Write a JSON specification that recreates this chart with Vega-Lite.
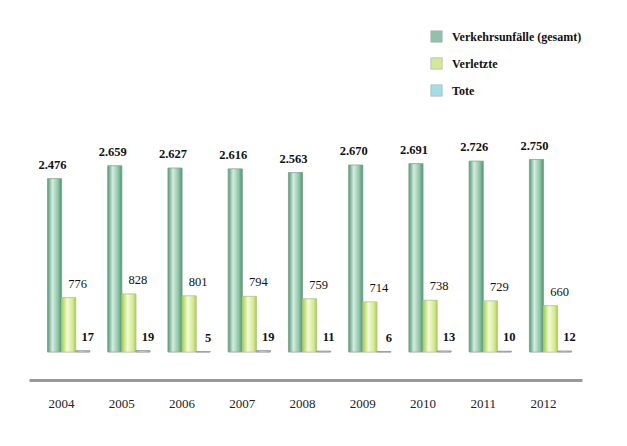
{
  "$schema": "https://vega.github.io/schema/vega-lite/v6.json",
  "width": 553,
  "height": 210,
  "autosize": {"type": "none"},
  "padding": {"left": 29, "top": 142, "right": 45, "bottom": 94},
  "background": "white",
  "config": {
    "view": {"stroke": null},
    "font": "Liberation Serif",
    "text": {"font": "Liberation Serif"},
    "legend": {"labelFont": "Liberation Serif"},
    "locale": {"number": {"decimal": ",", "thousands": ".", "grouping": [3], "currency": ["", " €"]}}
  },
  "data": {
    "values": [
      {"year": "2004", "series": "Verkehrsunfälle (gesamt)", "value": 2476},
      {"year": "2004", "series": "Verletzte", "value": 776},
      {"year": "2004", "series": "Tote", "value": 17},
      {"year": "2005", "series": "Verkehrsunfälle (gesamt)", "value": 2659},
      {"year": "2005", "series": "Verletzte", "value": 828},
      {"year": "2005", "series": "Tote", "value": 19},
      {"year": "2006", "series": "Verkehrsunfälle (gesamt)", "value": 2627},
      {"year": "2006", "series": "Verletzte", "value": 801},
      {"year": "2006", "series": "Tote", "value": 5},
      {"year": "2007", "series": "Verkehrsunfälle (gesamt)", "value": 2616},
      {"year": "2007", "series": "Verletzte", "value": 794},
      {"year": "2007", "series": "Tote", "value": 19},
      {"year": "2008", "series": "Verkehrsunfälle (gesamt)", "value": 2563},
      {"year": "2008", "series": "Verletzte", "value": 759},
      {"year": "2008", "series": "Tote", "value": 11},
      {"year": "2009", "series": "Verkehrsunfälle (gesamt)", "value": 2670},
      {"year": "2009", "series": "Verletzte", "value": 714},
      {"year": "2009", "series": "Tote", "value": 6},
      {"year": "2010", "series": "Verkehrsunfälle (gesamt)", "value": 2691},
      {"year": "2010", "series": "Verletzte", "value": 738},
      {"year": "2010", "series": "Tote", "value": 13},
      {"year": "2011", "series": "Verkehrsunfälle (gesamt)", "value": 2726},
      {"year": "2011", "series": "Verletzte", "value": 729},
      {"year": "2011", "series": "Tote", "value": 10},
      {"year": "2012", "series": "Verkehrsunfälle (gesamt)", "value": 2750},
      {"year": "2012", "series": "Verletzte", "value": 660},
      {"year": "2012", "series": "Tote", "value": 12}
    ]
  },
  "encoding": {
    "x": {
      "field": "year",
      "type": "nominal",
      "scale": {"paddingInner": 0.3, "paddingOuter": 0.24, "align": 0.64},
      "axis": {
        "title": null,
        "labelAngle": 0,
        "ticks": false,
        "domainColor": "#999999",
        "domainWidth": 3,
        "offset": 28,
        "labelPadding": 17,
        "labelOffset": -7,
        "labelFont": "Liberation Serif",
        "labelFontSize": 13,
        "labelColor": "#222222"
      }
    },
    "xOffset": {"field": "series", "sort": ["Verkehrsunfälle (gesamt)", "Verletzte", "Tote"]},
    "y": {"field": "value", "type": "quantitative", "scale": {"domain": [0, 3000]}, "axis": null}
  },
  "layer": [
    {
      "mark": {"type": "bar", "stroke": "#9aa89f", "strokeWidth": 0.6},
      "encoding": {
        "color": {
          "field": "series",
          "type": "nominal",
          "sort": ["Verkehrsunfälle (gesamt)", "Verletzte", "Tote"],
          "scale": {
            "domain": ["Verkehrsunfälle (gesamt)", "Verletzte", "Tote"],
            "range": ["#8fc2a6", "#d5ea98", "#9fe0e6"]
          },
          "legend": {
            "orient": "none",
            "legendX": 401,
            "legendY": -112,
            "title": null,
            "symbolType": "square",
            "symbolSize": 130,
            "symbolOpacity": 1,
            "symbolStrokeColor": "#aaaaaa",
            "symbolStrokeWidth": 0.6,
            "labelFont": "Liberation Serif",
            "labelFontWeight": "bold",
            "labelFontSize": 12,
            "labelColor": "#111111",
            "labelOffset": 9,
            "rowPadding": 12
          }
        }
      }
    },
    {
      "transform": [{"filter": "datum.series === 'Verkehrsunfälle (gesamt)'"}],
      "mark": {"type": "bar", "stroke": "#8aa898", "strokeWidth": 0.6, "color": {"gradient": "linear", "x1": 0, "y1": 0, "x2": 1, "y2": 0, "stops": [{"offset": 0, "color": "#4f9b77"}, {"offset": 0.35, "color": "#d6ece0"}, {"offset": 0.75, "color": "#8cc4a6"}, {"offset": 1, "color": "#4a9571"}]}},
      "encoding": {}
    },
    {
      "transform": [{"filter": "datum.series === 'Verletzte'"}],
      "mark": {"type": "bar", "stroke": "#b5c890", "strokeWidth": 0.6, "color": {"gradient": "linear", "x1": 0, "y1": 0, "x2": 1, "y2": 0, "stops": [{"offset": 0, "color": "#a5cf3c"}, {"offset": 0.4, "color": "#f4fadc"}, {"offset": 0.8, "color": "#d3ea8c"}, {"offset": 1, "color": "#a8d045"}]}},
      "encoding": {}
    },
    {
      "transform": [{"filter": "datum.series === 'Tote'"}],
      "mark": {"type": "bar", "stroke": "#999999", "strokeWidth": 0.8, "color": {"gradient": "linear", "x1": 0, "y1": 0, "x2": 1, "y2": 0, "stops": [{"offset": 0, "color": "#55c8d2"}, {"offset": 0.4, "color": "#dff5f7"}, {"offset": 1, "color": "#6fd0d8"}]}},
      "encoding": {}
    },
    {
      "transform": [{"filter": "datum.series === 'Verkehrsunfälle (gesamt)'"}],
      "mark": {"type": "text", "font": "Liberation Serif", "baseline": "bottom", "dy": -7, "dx": -2, "fontSize": 12.5, "fontWeight": "bold", "color": "#111111"},
      "encoding": {"text": {"field": "value", "type": "quantitative", "format": ",d"}}
    },
    {
      "transform": [{"filter": "datum.series === 'Verletzte'"}],
      "mark": {"type": "text", "font": "Liberation Serif", "baseline": "bottom", "dy": -7, "dx": 9, "fontSize": 12.5, "color": "#111111"},
      "encoding": {"text": {"field": "value", "type": "quantitative", "format": ",d"}}
    },
    {
      "transform": [{"filter": "datum.series === 'Tote'"}],
      "mark": {"type": "text", "font": "Liberation Serif", "baseline": "bottom", "dy": -7, "dx": 5, "fontSize": 12.5, "fontWeight": "bold", "color": "#111111"},
      "encoding": {"text": {"field": "value", "type": "quantitative", "format": ",d"}}
    }
  ]
}
